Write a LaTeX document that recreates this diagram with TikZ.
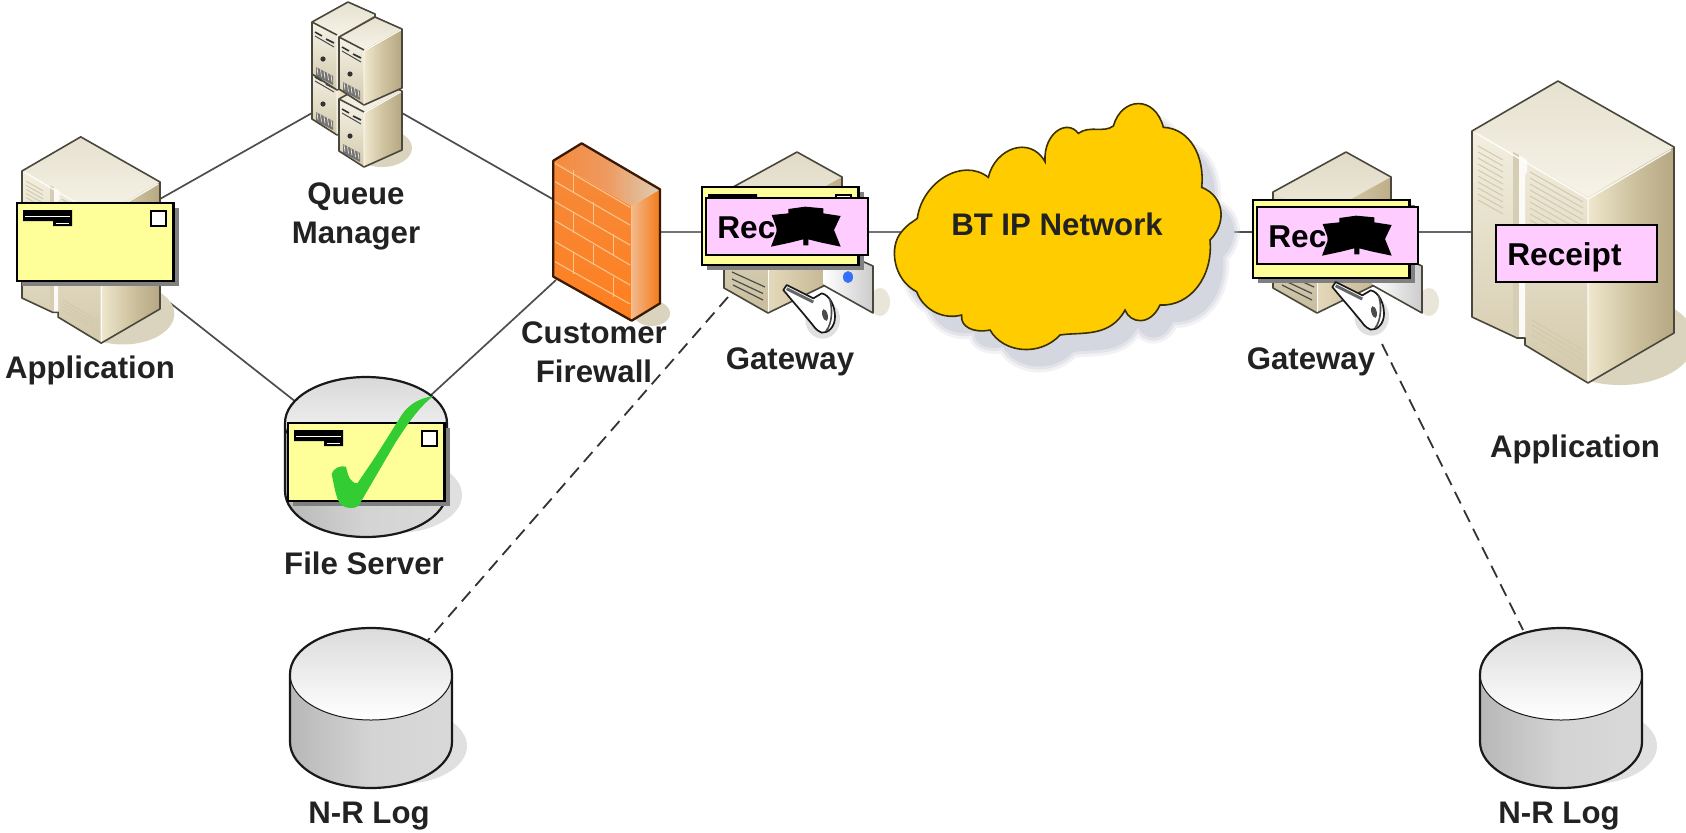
\documentclass[tikz,border=0pt]{standalone}
\usepackage{fontspec}
\setmainfont{Liberation Sans}
\definecolor{edgeC}{HTML}{4A473C}
\definecolor{lineC}{HTML}{4D4D4D}
\definecolor{shadowC}{HTML}{DAD4BE}
\definecolor{lblC}{HTML}{222222}
\definecolor{envC}{HTML}{FFFF99}
\definecolor{pinkC}{HTML}{FFCCFF}
\definecolor{envSh}{HTML}{808080}
\definecolor{cloudC}{HTML}{FFCC00}
\definecolor{cloudE}{HTML}{3A3000}
\definecolor{cloudS}{HTML}{CDCFDA}
\definecolor{brick}{HTML}{F9C48E}
\definecolor{checkC}{HTML}{33CC33}
\definecolor{srvTa}{HTML}{E6E1CF}
\definecolor{srvTb}{HTML}{F6F3E8}
\definecolor{srvLa}{HTML}{F3EEDF}
\definecolor{srvLb}{HTML}{D3C9AB}
\definecolor{srvRa}{HTML}{EFE7CE}
\definecolor{srvRm}{HTML}{CFC3A0}
\definecolor{srvRb}{HTML}{B5A781}
\definecolor{srvStrip}{HTML}{D6CEB4}
\definecolor{srvVent}{HTML}{D2CAAF}
\definecolor{gwTa}{HTML}{E0DAC6}
\definecolor{gwTb}{HTML}{EFEADB}
\definecolor{gwLa}{HTML}{E6DFCB}
\definecolor{gwLb}{HTML}{C8BD9D}
\definecolor{gwRa}{HTML}{E4D9BB}
\definecolor{gwRb}{HTML}{BDAE87}
\definecolor{fwFa}{HTML}{F58A3C}
\definecolor{fwFb}{HTML}{FF7F1E}
\definecolor{fwRa}{HTML}{F3B98C}
\definecolor{fwRb}{HTML}{F47A18}
\definecolor{fwTm}{HTML}{EE9A60}
\definecolor{fwTb}{HTML}{DCCDB4}
\definecolor{fwE}{HTML}{3A1A05}
\tikzset{
  zm/.style 2 args={shift={(#1,#2)},x=0.166667pt,y=-0.166667pt},
  lbl/.style={font=\fontsize{15.6}{19.3}\selectfont\bfseries,text=lblC,inner sep=0pt},
  rtext/.style={font=\fontsize{15.8}{19}\selectfont\bfseries,text=black,inner sep=0pt,anchor=base west},
  conn/.style={draw=lineC,line width=.85pt},
  dashconn/.style={draw=black!80,line width=.9pt,dash pattern=on 6.5pt off 3.8pt},
  boxedge/.style={draw=black,line width=1.2pt},
}
\newcommand{\serverShape}{%
  \fill[shadowC] (1620,340) ellipse [x radius=75,y radius=45];
  \shade[top color=srvTa,bottom color=srvTb] (1558,81)--(1674,147)--(1588,197)--(1472,131)--cycle;
  \shade[top color=srvLa,bottom color=srvLb] (1472,131)--(1588,197)--(1588,383)--(1525,345)--(1525,338)--(1517,338)--(1472,317)--cycle;
  \shade[left color=srvRa,right color=srvRb,middle color=srvRm] (1588,197)--(1674,147)--(1674,333)--(1588,383)--cycle;
  \fill[srvStrip] (1513,152)--(1519,155)--(1519,337)--(1513,336)--cycle;
  \fill[white!96!brown] (1519,155)--(1527,160)--(1527,172)--(1525,175)--(1525,338)--(1519,337)--cycle;
  \foreach \i in {0,...,9} {
    \draw[srvVent,line width=.5pt] (1478,146+6*\i)--(1503,160+6*\i);
    \draw[srvVent,line width=.5pt] (1530,172+6*\i)--(1583,202+6*\i);
  }
  \foreach \i in {0,...,3}
    \draw[srvVent,line width=.5pt] (1532,320+5*\i)--(1583,350+5*\i);
  \draw[white,line width=.7pt,opacity=.85] (1476,133)--(1588,199)--(1671,150) (1588,199)--(1588,381);
  \draw[edgeC,line width=.8pt,line join=round] (1472,131)--(1558,81)--(1674,147)--(1674,333)--(1588,383)--(1525,345)--(1525,338)--(1517,338)--(1472,317)--cycle;
}
\newcommand{\qbox}[2]{%
  \begin{scope}[shift={(#1,#2)}]
    \shade[top color=srvTa,bottom color=srvTb] (36,-20)--(63,-8)--(25,13)--(0,0)--cycle;
    \shade[top color=srvTb,bottom color=srvLb] (0,0)--(25,13)--(25,68)--(0,52)--cycle;
    \shade[left color=srvRa,right color=srvRb,middle color=srvRm] (25,13)--(63,-8)--(63,51)--(25,68)--cycle;
    \draw[black!80,line width=.8pt] (3,10)--(10,14) (14,17)--(22,21);
    \draw[black!70,line width=.5pt] (3,14)--(22,25);
    \fill[black!80] (11,37) circle [radius=2.6];
    \fill[black!55] (4,45)--(21,54)--(21,63)--(4,54)--cycle;
    \foreach \k in {5,8.5,12,15.5,19} \draw[srvLa,line width=.35pt] (\k,47+.53*\k-4)--(\k+1,54+.53*\k-4);
    \draw[edgeC,line width=.8pt,line join=round] (36,-20)--(63,-8)--(63,51)--(25,68)--(0,52)--(0,0)--cycle (0,0)--(25,13) ;
    \draw[white,line width=.4pt] (25,14)--(25,67) (25,14)--(62,-7);
  \end{scope}
}
\newcommand{\cyl}[3]{%
  \begin{scope}[shift={(#1,#2)}]
    \fill[black!12] (30,118) ellipse [x radius=66,y radius=38];
    \shade[left color=black!28,right color=black!15,middle color=black!17] (-81,46)--(-81,114) arc[start angle=180,end angle=360,x radius=40.5pt,y radius=23pt] --(81,46)--cycle;
    \shade[top color=#3,bottom color=white] (0,46) ellipse [x radius=81,y radius=46];
    \draw[black!90,line width=.5pt] (0,46) ellipse [x radius=81,y radius=46];
    \draw[black!90,line width=1.1pt] (-81,46) arc[start angle=180,end angle=0,x radius=40.5pt,y radius=23pt] --(81,114) arc[start angle=360,end angle=180,x radius=40.5pt,y radius=23pt] --cycle;
  \end{scope}
}
\newcommand{\drawEnv}[2]{%
  \begin{scope}[shift={(#1,#2)}]
    \fill[envSh] (5,5) rectangle (161.5,83);
    \path[boxedge,fill=envC] (0,0) rectangle (156.5,78);
    \path[draw=black,line width=1pt,fill=white] (134,8) rectangle (149,23);
    \fill[black] (6,7) rectangle (55,18) (36,18) rectangle (55,23);
    \draw[white,line width=.3pt] (8,13)--(53,13) (39,20)--(52,20);
  \end{scope}
}
\newcommand{\rcpt}[4]{%
  \begin{scope}[shift={(#1,#2)}]
    \path[boxedge,fill=pinkC,line width=1.1pt] (0,0) rectangle (#3,57);
    \node[rtext] (#4) at (11,40) {Receipt};
  \end{scope}
}
\newcommand{\blob}[2]{%
  \begin{scope}[shift={(#1,#2)}]
    \begin{scope}[zm={-16}{-58}]
      \fill[black] (243,320)--(262,270)--(245,225)--(295,220)--(295,207)--(345,200)--(400,205)--(400,220)--(452,228)--(432,270)--(452,320)--(395,308)--(355,298)--(355,316)--(340,316)--(340,298)--(300,308)--cycle;
    \end{scope}
  \end{scope}
}
\newcommand{\gateway}[1]{%
  \begin{scope}[shift={(#1,0)}]
    \fill[shadowC!60!white] (880,302) ellipse [x radius=10,y radius=14];
    \shade[top color=gwTa,bottom color=gwTb] (797,152)--(842,177)--(768,218)--(724,192)--cycle;
    \shade[top color=gwLa,bottom color=gwLb] (724,192)--(768,218)--(768,313)--(724,288)--cycle;
    \shade[left color=gwRa,right color=gwRb] (768,218)--(842,177)--(842,277)--(768,313)--cycle;
    \draw[black!70,line width=.6pt] (732,272)--(765,287) (732,279)--(763,293.5) (733,285)--(763,300);
    \draw[white,line width=.5pt] (768,219)--(768,312);
    \draw[edgeC,line width=.8pt,line join=round] (797,152)--(842,177)--(842,277)--(768,313)--(724,288)--(724,192)--cycle;
    \shade[left color=white,right color=black!20] (823,240)--(873,266)--(873,313)--(823,285)--cycle;
    \draw[edgeC,line width=.8pt,line join=round] (823,285)--(873,313)--(873,266)--(864,262);
    \fill[blue!70!cyan!80!white] (848,277) ellipse [x radius=5,y radius=6];
  \end{scope}
}
\newcommand{\gatekey}[2]{%
  \begin{scope}[shift={(#1,#2)}]
    \begin{scope}[zm={520}{130}]
      \fill[black!12] (908,568) ellipse [x radius=52,y radius=58];
      \path[draw=black!90,line width=.85pt,fill=white,line join=round] (790,480)--(800,465)--(880,505)--(905,490) .. controls (930,495) and (945,530) .. (945,560) .. controls (945,590) and (925,610) .. (905,608) .. controls (885,600) and (880,585) .. (870,575)--(845,545)--(815,510)--cycle;
      \draw[black!60,line width=1.5pt] (800,476)--(880,516);
      \fill[black!70,rotate around={15:(915,555)}] (915,555) ellipse [x radius=8,y radius=18];
      \draw[black!70,line width=.8pt] (928,505) .. controls (938,530) and (938,580) .. (918,603);
    \end{scope}
  \end{scope}
}
\begin{document}
\begin{tikzpicture}[x=0.5pt,y=-0.5pt]
\useasboundingbox (0,0) rectangle (1686,832);
\clip (0,0) rectangle (1686,832);
\fill[white] (0,0) rectangle (1686,832);
\coordinate (appNE) at (160,199);
\coordinate (appSE) at (160,295);
\coordinate (qmW) at (312,113);
\coordinate (qmE) at (402,113);
\coordinate (fwNW) at (556,201);
\coordinate (fwSW) at (556,280);
\coordinate (fsNW) at (296,402);
\coordinate (fsNE) at (430,396);
\coordinate (fwE) at (655,232);
\coordinate (gw1W) at (705,232);
\coordinate (gw1E) at (865,232);
\coordinate (cloudW) at (905,232);
\coordinate (cloudE) at (1215,232);
\coordinate (gw2W) at (1260,232);
\coordinate (gw2E) at (1415,232);
\coordinate (app2W) at (1475,232);
\coordinate (gw1S) at (728,297);
\coordinate (log1NE) at (428,640);
\coordinate (gw2S) at (1382,344);
\coordinate (log2N) at (1523,630);
\draw[conn] (appNE)--(qmW);
\draw[conn] (appSE)--(fsNW);
\draw[conn] (qmE)--(fwNW);
\draw[conn] (fsNE)--(fwSW);
\draw[conn,draw=black!55,line width=1.2pt] (fwE)--(gw1W);
\draw[conn,draw=black!55,line width=1.2pt] (gw1E)--(cloudW);
\draw[conn] (cloudE)--(gw2W);
\draw[conn,draw=black!60,line width=1.1pt] (gw2E)--(app2W);
\draw[dashconn] (gw1S)--(log1NE);
\draw[dashconn] (gw2S)--(log2N);
\begin{scope}[shift={(22,171)},scale=.683,shift={(-1472,-131)}]
  \serverShape
\end{scope}
\serverShape
\fill[shadowC] (382,148) ellipse [x radius=30,y radius=19];
\qbox{312}{67}
\qbox{312}{22}
\qbox{339}{99}
\qbox{339}{37}
\begin{scope}[zm={520}{130}]
  \fill[shadowC] (395,550) ellipse [x radius=55,y radius=38];
  \shade[top color=fwFa,bottom color=fwFb] (100,92)--(335,228)--(335,572)--(100,440)--cycle;
  \shade[left color=fwRa,right color=fwRb] (335,228)--(420,178)--(420,520)--(335,572)--cycle;
  \shade[left color=fwFa,right color=fwTb,middle color=fwTm] (100,92)--(185,40)--(420,178)--(335,228)--cycle;
  \begin{scope}[draw=brick,line width=.55pt]
    \draw (105,155)--(330,285) (105,215)--(330,345) (105,272)--(330,405) (105,335)--(330,465) (105,395)--(330,522) (105,100)--(330,232);
    \draw (160,120)--(160,185) (220,215)--(220,282) (160,245)--(160,308) (280,312)--(280,375) (220,345)--(220,405) (160,370)--(160,432) (280,440)--(280,500);
    \draw (335,228)--(335,572);
  \end{scope}
  \draw[fwE,line width=1.15pt,line join=round] (100,92)--(185,40)--(420,178)--(420,520)--(335,572)--(100,440)--cycle;
\end{scope}
\gateway{0}
\gateway{549}
\drawEnv{702}{187}
\rcpt{706}{198}{162}{rc1}
\blob{706}{198}
\drawEnv{1253}{200}
\rcpt{1257}{207}{161}{rc2}
\blob{1257}{207}
\gatekey{0}{0}
\gatekey{549}{-3}
\def\cloudpath{(65,425) .. controls (85,400) and (100,395) .. (112,385)
  .. controls (125,280) and (245,200) .. (325,262)
  .. controls (345,175) and (450,135) .. (495,215)
  .. controls (490,130) and (560,85) .. (595,130)
  .. controls (630,105) and (670,130) .. (700,108)
  .. controls (725,20) and (825,15) .. (850,112)
  .. controls (930,115) and (975,200) .. (965,292)
  .. controls (1035,320) and (1040,400) .. (990,450)
  .. controls (1000,560) and (930,650) .. (840,645)
  .. controls (810,710) and (750,700) .. (735,660)
  .. controls (690,745) and (600,725) .. (540,735)
  .. controls (480,800) and (370,790) .. (330,720)
  .. controls (280,730) and (240,710) .. (245,675)
  .. controls (190,690) and (130,660) .. (110,605)
  .. controls (40,570) and (25,470) .. (65,425) -- cycle}
\begin{scope}[zm={893}{107}]
  \draw[cloudS,line width=6pt,opacity=.25,line join=round] \cloudpath;
  \draw[cloudS,line width=3pt,opacity=.4,line join=round] \cloudpath;
  \fill[cloudS!85!white] \cloudpath;
\end{scope}
\begin{scope}[zm={880}{90}]
  \path[draw=cloudE,line width=.8pt,fill=cloudC] \cloudpath;
\end{scope}
\cyl{366}{377}{black!15}
\cyl{371}{628}{black!14}
\cyl{1561}{628}{black!14}
\drawEnv{17}{203}
\drawEnv{288}{423}
\rcpt{1496}{225}{161}{rc3}
\begin{scope}[zm={260}{370}]
  \fill[checkC] (520,78) .. controls (475,85) and (445,105) .. (425,135) -- (345,262) -- (292,340) .. controls (275,340) and (265,325) .. (258,290) .. controls (240,285) and (220,295) .. (215,312) .. controls (222,345) and (228,385) .. (240,400) .. controls (250,415) and (285,420) .. (297,405) -- (335,340) -- (405,220) .. controls (450,150) and (480,110) .. (520,78) -- cycle;
\end{scope}
\node[lbl,anchor=base] (appLbl) at (90,378) {Application};
\node[lbl,align=center] (qmLbl) at (356,216.5) {Queue\\Manager};
\node[lbl,align=center] (fwLbl) at (594,352.5) {Customer\\Firewall};
\node[lbl,anchor=base] (gw1Lbl) at (790,369) {Gateway};
\node[lbl,anchor=base] (cloudLbl) at (1057,235) {BT IP Network};
\node[lbl,anchor=base] (gw2Lbl) at (1311,369) {Gateway};
\node[lbl,anchor=base] (app2Lbl) at (1575,457) {Application};
\node[lbl,anchor=base] (fsLbl) at (364,574) {File Server};
\node[lbl,anchor=base] (log1Lbl) at (369,823) {N-R Log};
\node[lbl,anchor=base] (log2Lbl) at (1559,823) {N-R Log};
\end{tikzpicture}
\end{document}
